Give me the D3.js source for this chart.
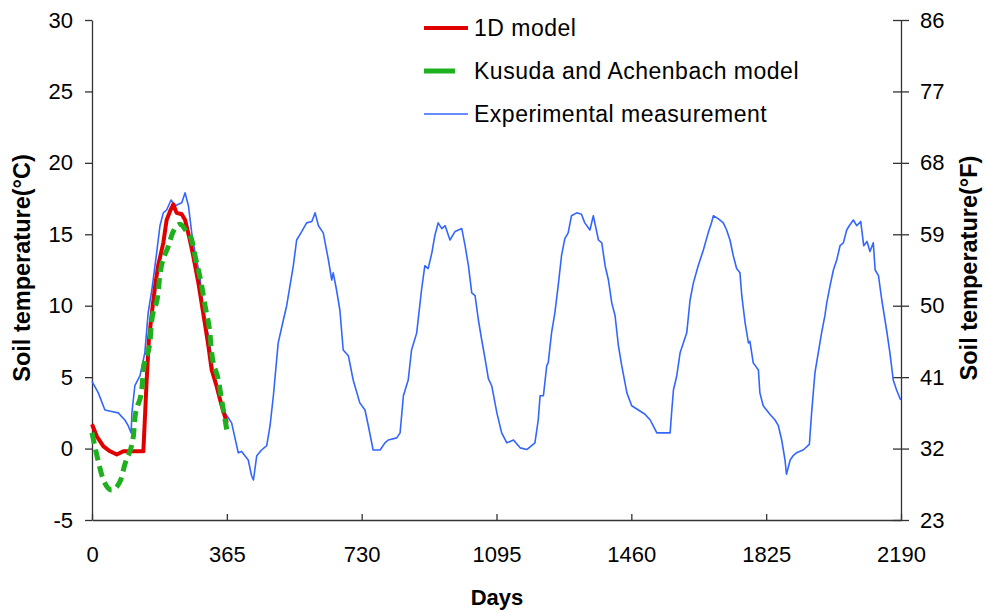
<!DOCTYPE html>
<html>
<head>
<meta charset="utf-8">
<script src="https://cdn.jsdelivr.net/npm/d3@7/dist/d3.min.js"></script>
<style>
  html, body { margin: 0; padding: 0; background: #fff; }
  svg text { font-family: "Liberation Sans", Arial, sans-serif; fill: #000; }
</style>
</head>
<body>
<svg id="chart" width="988" height="613"></svg>
<script>
// Days since start of record
const dayTicks = [0, 365, 730, 1095, 1460, 1825, 2190];
const celsiusTicks = [-5, 0, 5, 10, 15, 20, 25, 30];
const fahrenheitTicks = [23, 32, 41, 50, 59, 68, 77, 86];

// Experimental measurement (day, °C)
const measDays = [0, 17, 35, 53, 71, 89, 98, 106, 108, 116, 130, 143, 152, 162, 175, 184, 193, 202, 214, 225, 243, 252, 261, 270, 279, 292, 301, 315, 328, 342, 355, 378, 396, 405, 423, 432, 437, 446, 459, 473, 482, 491, 504, 518, 527, 536, 545, 554, 568, 581, 595, 604, 613, 626, 640, 649, 653, 662, 671, 680, 694, 707, 725, 739, 748, 761, 780, 793, 802, 825, 834, 843, 856, 865, 879, 892, 901, 910, 920, 928, 937, 947, 956, 969, 983, 1001, 1010, 1019, 1028, 1037, 1046, 1055, 1064, 1073, 1082, 1096, 1109, 1123, 1141, 1159, 1177, 1199, 1208, 1213, 1222, 1231, 1235, 1244, 1253, 1262, 1271, 1280, 1289, 1298, 1312, 1325, 1334, 1348, 1357, 1371, 1380, 1389, 1398, 1407, 1416, 1425, 1434, 1448, 1461, 1479, 1497, 1511, 1519, 1529, 1565, 1569, 1574, 1583, 1592, 1601, 1610, 1619, 1628, 1641, 1655, 1668, 1677, 1682, 1695, 1709, 1718, 1727, 1736, 1745, 1754, 1759, 1768, 1777, 1781, 1790, 1804, 1808, 1817, 1835, 1849, 1858, 1867, 1876, 1880, 1890, 1898, 1907, 1925, 1942, 1948, 1957, 1966, 1975, 1984, 1989, 1998, 2007, 2016, 2025, 2034, 2043, 2050, 2061, 2070, 2081, 2089, 2098, 2106, 2115, 2120, 2129, 2138, 2151, 2160, 2169, 2178, 2189];
const measTemp = [4.7, 3.9, 2.7, 2.6, 2.5, 2.0, 1.6, 1.1, 2.5, 4.4, 5.1, 6.7, 9.5, 11.1, 13.7, 15.6, 16.5, 16.7, 17.4, 17.0, 17.2, 17.9, 17.0, 15.1, 13.7, 12.1, 9.5, 7.9, 5.5, 3.9, 2.7, 1.8, -0.3, -0.2, -0.8, -1.9, -2.2, -0.5, -0.1, 0.2, 1.6, 3.7, 7.4, 9.0, 10.0, 11.4, 12.8, 14.6, 15.2, 15.8, 15.9, 16.5, 15.6, 15.1, 13.2, 11.8, 12.3, 11.1, 9.7, 6.9, 6.5, 4.8, 3.2, 2.7, 1.6, -0.1, -0.1, 0.4, 0.6, 0.75, 1.1, 3.7, 4.8, 6.9, 8.1, 11.1, 12.8, 12.6, 13.7, 14.9, 15.8, 15.4, 15.6, 14.6, 15.2, 15.4, 14.2, 12.8, 10.9, 10.7, 9.0, 7.6, 6.3, 4.9, 4.4, 2.5, 1.1, 0.4, 0.6, 0.05, -0.07, 0.4, 2.0, 3.7, 3.7, 5.8, 6.0, 8.1, 9.5, 11.4, 13.5, 14.7, 15.1, 16.3, 16.5, 16.4, 15.8, 15.3, 16.3, 14.6, 14.4, 12.8, 11.8, 10.2, 9.3, 7.2, 5.8, 3.9, 3.0, 2.7, 2.4, 2.0, 1.6, 1.1, 1.1, 2.5, 4.1, 5.1, 6.7, 7.4, 8.1, 10.4, 11.6, 12.8, 13.9, 15.1, 15.8, 16.3, 16.1, 15.8, 15.3, 14.6, 13.5, 12.6, 12.3, 10.7, 8.8, 7.4, 7.5, 6.0, 5.5, 3.9, 3.0, 2.4, 2.0, 1.6, 0.6, -0.8, -1.8, -0.8, -0.5, -0.3, -0.1, 0.3, 2.5, 5.3, 6.7, 8.1, 9.3, 10.2, 11.4, 12.5, 13.2, 14.2, 14.4, 15.3, 15.6, 16.0, 15.6, 15.9, 14.2, 14.5, 13.8, 14.4, 12.5, 12.1, 10.4, 8.3, 6.7, 4.8, 4.1, 3.4];

// 1D model, first year (day, °C)
const oneDDays = [0, 13, 31, 49, 67, 85, 139, 143, 148, 154, 162, 171, 179, 193, 202, 211, 220, 229, 243, 252, 265, 274, 288, 301, 315, 324, 337, 351, 365];
const oneDTemp = [1.7, 0.86, 0.16, -0.19, -0.42, -0.19, -0.19, 2.0, 4.8, 7.6, 9.5, 11.4, 12.8, 14.4, 16.0, 16.6, 17.1, 16.5, 16.4, 16.0, 14.6, 13.5, 11.6, 9.5, 7.2, 5.5, 4.4, 3.0, 1.8];

// Kusuda and Achenbach model, first year (day, °C)
const kaDays = [0, 17, 31, 53, 76, 89, 112, 116, 135, 139, 157, 161, 179, 184, 207, 220, 238, 256, 270, 279, 297, 306, 319, 324, 342, 351, 365];
const kaTemp = [1.1, -0.9, -2.2, -2.9, -2.3, -1.1, 0.86, 2.1, 4.2, 5.5, 7.5, 8.8, 10.9, 12.2, 14.2, 15.2, 15.7, 15.2, 14.6, 13.5, 11.4, 10.0, 8.1, 6.7, 4.8, 3.4, 1.3];

const seriesNames = ["1D model", "Kusuda and Achenbach model", "Experimental measurement"];
const colors = { oneD: "#e00000", ka: "#1fb01f", meas: "#3366ff" };

const svg = d3.select("#chart");
const plotLeft = 92, plotRight = 901, plotTop = 20, plotBottom = 520;

const x = d3.scaleLinear().domain([0, 2190]).range([plotLeft, plotRight]);
const y = d3.scaleLinear().domain([-5, 30]).range([plotBottom, plotTop]);
const yF = d3.scaleLinear().domain([23, 86]).range([plotBottom, plotTop]);

const axisColor = "#333";
const tickFont = "22px";
const plain = d => String(d);   // hyphen-minus for negatives

// Left axis (°C)
const gL = svg.append("g").attr("transform", `translate(${plotLeft},0)`)
  .call(d3.axisLeft(y).tickValues(celsiusTicks).tickFormat(plain)
    .tickSizeInner(7).tickSizeOuter(0).tickPadding(12));
// Right axis (°F)
const gR = svg.append("g").attr("transform", `translate(${plotRight},0)`)
  .call(d3.axisRight(yF).tickValues(fahrenheitTicks).tickFormat(plain)
    .tickSizeInner(8).tickSizeOuter(0).tickPadding(11));
gR.selectAll(".tick line").attr("x1", -8);
// Bottom axis (days)
const gB = svg.append("g").attr("transform", `translate(0,${plotBottom})`)
  .call(d3.axisBottom(x).tickValues(dayTicks).tickFormat(plain)
    .tickSizeInner(-6).tickSizeOuter(0).tickPadding(26));

[gL, gR, gB].forEach(g => {
  g.select(".domain").attr("stroke", axisColor).attr("stroke-width", 1.3);
  g.selectAll(".tick line").attr("stroke", axisColor).attr("stroke-width", 1.3);
  g.selectAll(".tick text").attr("font-size", tickFont)
    .attr("font-family", "'Liberation Sans', Arial, sans-serif").attr("fill", "#000");
});

// Axis titles
svg.append("text").attr("transform", "translate(30,268) rotate(-90)")
  .attr("text-anchor", "middle").attr("font-size", "23.5px").attr("font-weight", "bold")
  .text("Soil temperature(°C)");
svg.append("text").attr("transform", "translate(977,268) rotate(-90)")
  .attr("text-anchor", "middle").attr("font-size", "23.5px").attr("font-weight", "bold")
  .text("Soil temperature(°F)");
svg.append("text").attr("x", 497).attr("y", 605)
  .attr("text-anchor", "middle").attr("font-size", "22px").attr("font-weight", "bold")
  .text("Days");

const pts = (ds, ts) => ds.map((d, i) => [d, ts[i]]);
const line = d3.line().x(d => x(d[0])).y(d => y(d[1]));
const smooth = d3.line().x(d => x(d[0])).y(d => y(d[1])).curve(d3.curveMonotoneX);

svg.append("path").datum(pts(measDays, measTemp)).attr("d", line)
  .attr("fill", "none").attr("stroke", colors.meas).attr("stroke-width", 1.6)
  .attr("stroke-linejoin", "round");
svg.append("path").datum(pts(oneDDays, oneDTemp)).attr("d", line)
  .attr("fill", "none").attr("stroke", colors.oneD).attr("stroke-width", 4)
  .attr("stroke-linejoin", "round");
svg.append("path").datum(pts(kaDays, kaTemp)).attr("d", smooth)
  .attr("fill", "none").attr("stroke", colors.ka).attr("stroke-width", 5)
  .attr("stroke-dasharray", "11,6");

// Legend
const legend = svg.append("g");
const legendRows = [
  { name: seriesNames[0], color: colors.oneD, w: 4, x2: 468 },
  { name: seriesNames[1], color: colors.ka, w: 5, x2: 455 },
  { name: seriesNames[2], color: colors.meas, w: 1.6, x2: 468 }
];
legendRows.forEach((r, i) => {
  const yy = 28 + i * 43;
  legend.append("line").attr("x1", 424).attr("x2", r.x2).attr("y1", yy).attr("y2", yy)
    .attr("stroke", r.color).attr("stroke-width", r.w);
  legend.append("text").attr("x", 474).attr("y", yy).attr("dy", "0.36em")
    .attr("font-size", "23px").attr("letter-spacing", "0.5px").text(r.name);
});
</script>
</body>
</html>
